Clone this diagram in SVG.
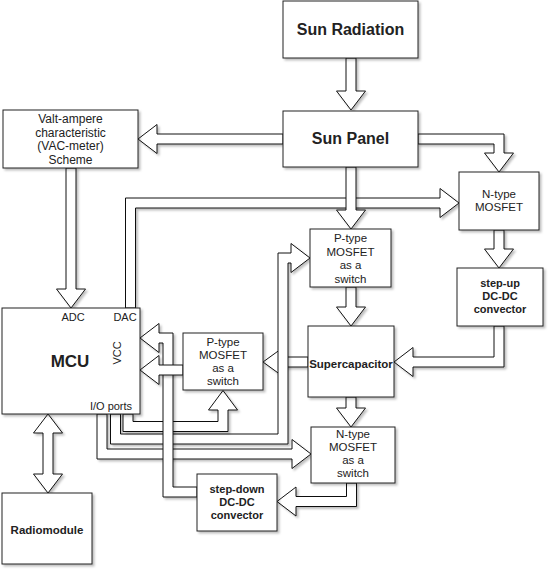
<svg xmlns="http://www.w3.org/2000/svg" width="553" height="575" viewBox="0 0 553 575">
<defs>
<filter id="sh" x="-10%" y="-10%" width="130%" height="130%">
<feDropShadow dx="2" dy="2" stdDeviation="1" flood-color="#000" flood-opacity="0.25"/>
</filter>
<style>
.box{fill:#fff;stroke:#222;stroke-width:1;filter:url(#sh)}
.arr{fill:#fff;stroke:#111;stroke-width:1;stroke-linejoin:miter;filter:url(#sh)}
text{font-family:"Liberation Sans",Arial,sans-serif;fill:#222;text-anchor:middle}
.big{font-size:16px;font-weight:bold}
.t12{font-size:12px}
.t11{font-size:11.5px}
.b11{font-size:11px;font-weight:bold}
.lbl{font-size:11px}
</style>
</defs>
<rect width="553" height="575" fill="#fff"/>
<g id="connectors">
<path class="arr" d="M346,58 V91 H336.5 L351,110 L365.5,91 H356 V58 Z"/>
<path class="arr" d="M283,134 H157 V124.5 L138,139 L157,153.5 V144 H283 Z"/>
<path class="arr" d="M418,134 H504 V153 H513.5 L499,172 L484.5,153 H494 V144 H418 Z"/>
<path class="arr" d="M125.5,308 V198 H440 V188.5 L459,203 L440,217.5 V208 H135.5 V308 Z"/>
<path class="arr" d="M346,167 V210 H336.5 L351,229 L365.5,210 H356 V167 Z"/>
<path class="arr" d="M66,168 V289 H56.5 L71,308 L85.5,289 H76 V168 Z"/>
<path class="arr" d="M494,230 V249 H484.5 L499,268 L513.5,249 H504 V230 Z"/>
<path class="arr" d="M494,326 V357 H413 V347.5 L394,362 L413,376.5 V367 H504 V326 Z"/>
<path class="arr" d="M346,287 V307 H336.5 L351,326 L365.5,307 H356 V287 Z"/>
<path class="arr" d="M308,357 H283 V347.5 L263,362 L283,376.5 V367 H308 Z"/>
<path class="arr" d="M346,397 V408 H336.5 L351,427 L365.5,408 H356 V397 Z"/>
<path class="arr" d="M346.5,483 V496.5 H296 V487 L277,501.5 L296,516 V506.5 H356.5 V483 Z"/>
<path class="arr" d="M97,414 V459 H292 V468.5 L311,454 L292,439.5 V449 H107 V414 Z"/>
<path class="arr" d="M110.5,414 V444 H288 V263 H291 V272.5 L310,258 L291,243.5 V253 H278 V434 H120.5 V414 Z"/>
<path class="arr" d="M123,414 V431.5 H228 V410 H237.5 L223,390.5 L208.5,410 H218 V421.5 H133 V414 Z"/>
<path class="arr" d="M197,487 H173 V333 H159 V323.5 L140,338 L159,352.5 V343 H163 V497 H197 Z"/>
<path class="arr" d="M183,365 H159 V355.5 L140,370 L159,384.5 V375 H183 Z"/>
<path class="arr" d="M43,433 H33.5 L48,414 L62.5,433 H53 V474 H62.5 L48,493 L33.5,474 H43 Z"/>
</g>
<g id="sun-radiation">
<rect class="box" x="283" y="1" width="135" height="57"/>
<text class="big" x="350.5" y="35">Sun Radiation</text>
</g>
<g id="sun-panel">
<rect class="box" x="283" y="111" width="135" height="56"/>
<text class="big" x="350.5" y="144">Sun Panel</text>
</g>
<g id="vac-scheme">
<rect class="box" x="3" y="110" width="135" height="58"/>
<text class="t12" x="70.5" y="123">Valt-ampere</text>
<text class="t12" x="70.5" y="136.5">characteristic</text>
<text class="t12" x="70.5" y="150">(VAC-meter)</text>
<text class="t12" x="70.5" y="163.5">Scheme</text>
</g>
<g id="ntype-top">
<rect class="box" x="459" y="172" width="80" height="58"/>
<text class="t11" x="499" y="198">N-type</text>
<text class="t11" x="499" y="211">MOSFET</text>
</g>
<g id="ptype-top">
<rect class="box" x="310" y="229" width="81" height="58"/>
<text class="t11" x="350.5" y="242">P-type</text>
<text class="t11" x="350.5" y="255.5">MOSFET</text>
<text class="t11" x="350.5" y="269">as a</text>
<text class="t11" x="350.5" y="282.5">switch</text>
</g>
<g id="step-up">
<rect class="box" x="457" y="268" width="86" height="58"/>
<text class="b11" x="500" y="287">step-up</text>
<text class="b11" x="500" y="300">DC-DC</text>
<text class="b11" x="500" y="313">convector</text>
</g>
<g id="supercapacitor">
<rect class="box" x="308" y="326" width="86" height="71"/>
<text x="351" y="368" style="font-size:11.5px;font-weight:bold">Supercapacitor</text>
</g>
<g id="ptype-mid">
<rect class="box" x="183" y="333" width="80" height="57"/>
<text class="t11" x="223" y="346">P-type</text>
<text class="t11" x="223" y="359">MOSFET</text>
<text class="t11" x="223" y="372">as a</text>
<text class="t11" x="223" y="385">switch</text>
</g>
<g id="mcu">
<rect class="box" x="2" y="308" width="138" height="106"/>
<text x="70" y="367" style="font-size:17px;font-weight:bold">MCU</text>
<text class="lbl" x="73" y="321">ADC</text>
<text class="lbl" x="125" y="321">DAC</text>
<text class="lbl" transform="translate(121,353) rotate(-90)">VCC</text>
<text class="lbl" x="111" y="410">I/O ports</text>
</g>
<g id="ntype-low">
<rect class="box" x="311" y="427" width="84" height="56"/>
<text class="t11" x="353" y="438">N-type</text>
<text class="t11" x="353" y="451">MOSFET</text>
<text class="t11" x="353" y="464">as a</text>
<text class="t11" x="353" y="477">switch</text>
</g>
<g id="step-down">
<rect class="box" x="197" y="474" width="80" height="57"/>
<text class="b11" x="237" y="493">step-down</text>
<text class="b11" x="237" y="506">DC-DC</text>
<text class="b11" x="237" y="519">convector</text>
</g>
<g id="radiomodule">
<rect class="box" x="2" y="493" width="90" height="71"/>
<text x="47" y="534" style="font-size:11.5px;font-weight:bold">Radiomodule</text>
</g>
</svg>
